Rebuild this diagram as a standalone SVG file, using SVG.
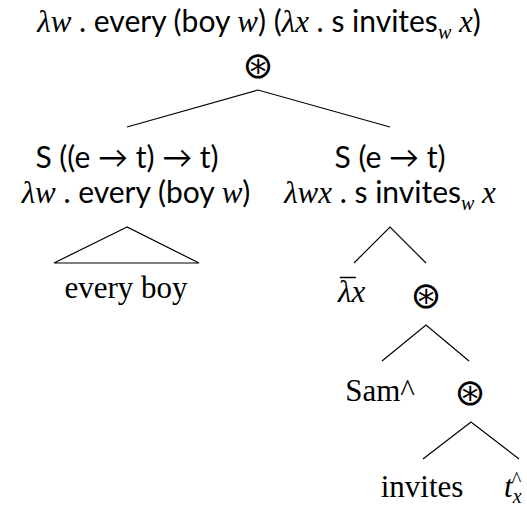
<svg xmlns="http://www.w3.org/2000/svg" width="527" height="507" viewBox="0 0 527 507">
<style>
.s{font-family:Lato,"Noto Sans",sans-serif;font-size:30px;fill:#000}
.m{font-family:"Liberation Serif",serif;font-style:italic;font-size:31px}
.r{font-family:"Liberation Serif",serif;font-size:31px;fill:#000}
.sub{font-family:"Liberation Serif",serif;font-style:italic;font-size:20px}
.op{font-family:"DejaVu Sans",sans-serif;font-size:37px;fill:#000}
.e{stroke:#000;stroke-width:1.2;fill:none}
</style>
<rect width="527" height="507" fill="#fff"/>
<g id="edges">
<polyline class="e" points="127,127 258,90 390,127"/>
<polygon class="e" points="127,227 54,263 199,263"/>
<polyline class="e" points="354,263 390,227 426,263"/>
<polyline class="e" points="382,361 426,325 469,361"/>
<polyline class="e" points="423,459 471,422 519,459"/>
</g>
<g id="root">
<text class="s" x="259" y="32" text-anchor="middle"><tspan class="m">λw</tspan> . every (boy <tspan class="m">w</tspan>) (<tspan class="m">λx</tspan> . s invites<tspan class="sub" dy="7">w</tspan><tspan dy="-7"> </tspan><tspan class="m">x</tspan>)</text>
<text class="op" x="258" y="78" text-anchor="middle">⊛</text>
</g>
<g id="left">
<text class="s" x="127" y="168" text-anchor="middle">S ((e → t) → t)</text>
<text class="s" x="136" y="203" text-anchor="middle"><tspan class="m">λw</tspan> . every (boy <tspan class="m">w</tspan>)</text>
</g>
<g id="everyboy">
<text class="r" x="126" y="298" text-anchor="middle">every boy</text>
</g>
<g id="right">
<text class="s" x="390" y="168" text-anchor="middle">S (e → t)</text>
<text class="s" x="390" y="203" text-anchor="middle"><tspan class="m">λwx</tspan> . s invites<tspan class="sub" dy="7">w</tspan><tspan dy="-7"> </tspan><tspan class="m">x</tspan></text>
</g>
<g id="lambda">
<text class="m" x="338" y="302">λx</text>
<text class="r" x="340" y="301">¯</text>
</g>
<g id="op2"><text class="op" x="426" y="308" text-anchor="middle">⊛</text></g>
<g id="sam"><text class="r" x="380" y="401" text-anchor="middle">Sam^</text></g>
<g id="op3"><text class="op" x="470" y="405" text-anchor="middle">⊛</text></g>
<g id="invites"><text class="r" x="422" y="497" text-anchor="middle">invites</text></g>
<g id="trace"><text class="m" x="504" y="497">t<tspan class="sub" dy="6">x</tspan><tspan class="sub" dy="-17" dx="-10">^</tspan></text></g>
</svg>
